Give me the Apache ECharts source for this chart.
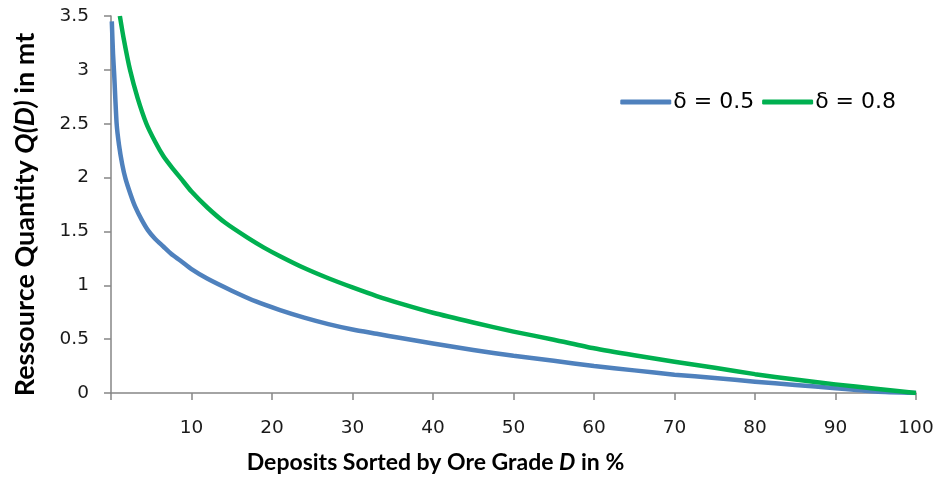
<!DOCTYPE html>
<html>
<head>
<meta charset="utf-8">
<script src="https://cdn.jsdelivr.net/npm/echarts@6/dist/echarts.min.js"></script>
<style>
  html, body { margin: 0; padding: 0; background: #fff; }
  #chart { width: 941px; height: 482px; }
</style>
</head>
<body>
<div id="chart"></div>
<script>
// values: [D in %, Q(D) in mt]
const delta05 = [
  [0.1, 3.45], [0.25, 3.15], [0.4, 2.95], [0.7, 2.5], [1.0, 2.3], [1.4, 2.12],
  [1.8, 1.99], [2.4, 1.85], [3, 1.73], [3.8, 1.61], [4.6, 1.51], [5.5, 1.43],
  [6.5, 1.36], [7.5, 1.29], [8.6, 1.23], [10, 1.15], [12, 1.06], [15, 0.95],
  [18, 0.85], [21, 0.77], [24, 0.7], [27, 0.64], [30, 0.59], [33, 0.55],
  [36, 0.51], [40, 0.46], [45, 0.4], [50, 0.345], [55, 0.3], [60, 0.25],
  [65, 0.21], [70, 0.17], [75, 0.14], [80, 0.105], [85, 0.075], [90, 0.045],
  [95, 0.015], [100, 0]
];
const delta08 = [
  [1.1, 3.5], [1.6, 3.28], [2.36, 3.0], [3.3, 2.74], [4.4, 2.5], [5.5, 2.33],
  [6.5, 2.2], [7.6, 2.09], [8.7, 1.99], [10, 1.87], [12, 1.72], [14.2, 1.58],
  [17, 1.44], [19, 1.35], [21, 1.27], [24, 1.16], [27, 1.065], [30, 0.98], [33, 0.9],
  [36, 0.83], [40, 0.745], [45, 0.655], [50, 0.57], [55, 0.495], [60, 0.415],
  [65, 0.35], [70, 0.29], [75, 0.235], [80, 0.175], [85, 0.125], [90, 0.08],
  [95, 0.04], [100, 0]
];
const seriesNames = ["δ = 0.5", "δ = 0.8"];
const xTitle = "Deposits Sorted by Ore Grade {i|D} in %";
const yTitle = "Ressource Quantity {i|Q(D)} in mt";

const chart = echarts.init(document.getElementById("chart"), null, { renderer: "canvas" });

const axisGray = "#868686";
const tickFont = { fontFamily: "DejaVu Sans", fontSize: 18.5, color: "#1a1a1a" };
function titleFont(size) {
  return {
    fontFamily: "Lato", fontWeight: "bold", fontSize: size, color: "#000",
    rich: { i: { fontFamily: "Lato", fontWeight: "bold", fontStyle: "italic", fontSize: size, color: "#000" } }
  };
}

chart.setOption({
  animation: false,
  backgroundColor: "#fff",
  grid: { left: 111, right: 25, top: 16, bottom: 89, containLabel: false },
  legend: {
    right: 40,
    top: 86,
    itemWidth: 51,
    itemHeight: 5,
    itemGap: 8,
    icon: "roundRect",
    textStyle: { fontFamily: "DejaVu Sans", fontSize: 22, color: "#000", padding: [0, 0, 0, -3] },
    data: seriesNames
  },
  xAxis: {
    type: "value",
    min: 0,
    max: 100,
    interval: 10,
    name: xTitle,
    nameLocation: "middle",
    nameGap: 58,
    nameTextStyle: Object.assign({ padding: [0, 156, 0, 0] }, titleFont(23)),
    axisLine: { lineStyle: { color: axisGray, width: 1.5 } },
    axisTick: { show: true, length: 7, lineStyle: { color: axisGray, width: 1.5 } },
    axisLabel: Object.assign({ margin: 26, formatter: (v) => (v === 0 ? "" : String(v)) }, tickFont),
    splitLine: { show: false }
  },
  yAxis: {
    type: "value",
    min: 0,
    max: 3.5,
    interval: 0.5,
    name: yTitle,
    nameLocation: "middle",
    nameGap: 72,
    nameTextStyle: Object.assign({ padding: [0, 20, 0, 0] }, titleFont(27)),
    axisLine: { show: true, lineStyle: { color: axisGray, width: 1.5 } },
    axisTick: { show: true, length: 7, lineStyle: { color: axisGray, width: 1.5 } },
    axisLabel: Object.assign({ margin: 22 }, tickFont),
    splitLine: { show: false }
  },
  series: [
    {
      name: seriesNames[0],
      type: "line",
      data: delta05,
      showSymbol: false,
      symbol: "none",
      smooth: 0.2,
      lineStyle: { color: "#4F81BD", width: 4.5, join: "round" },
      itemStyle: { color: "#4F81BD" }
    },
    {
      name: seriesNames[1],
      type: "line",
      data: delta08,
      showSymbol: false,
      symbol: "none",
      smooth: 0.2,
      lineStyle: { color: "#00B050", width: 4.5, join: "round" },
      itemStyle: { color: "#00B050" }
    }
  ]
});
</script>
</body>
</html>
